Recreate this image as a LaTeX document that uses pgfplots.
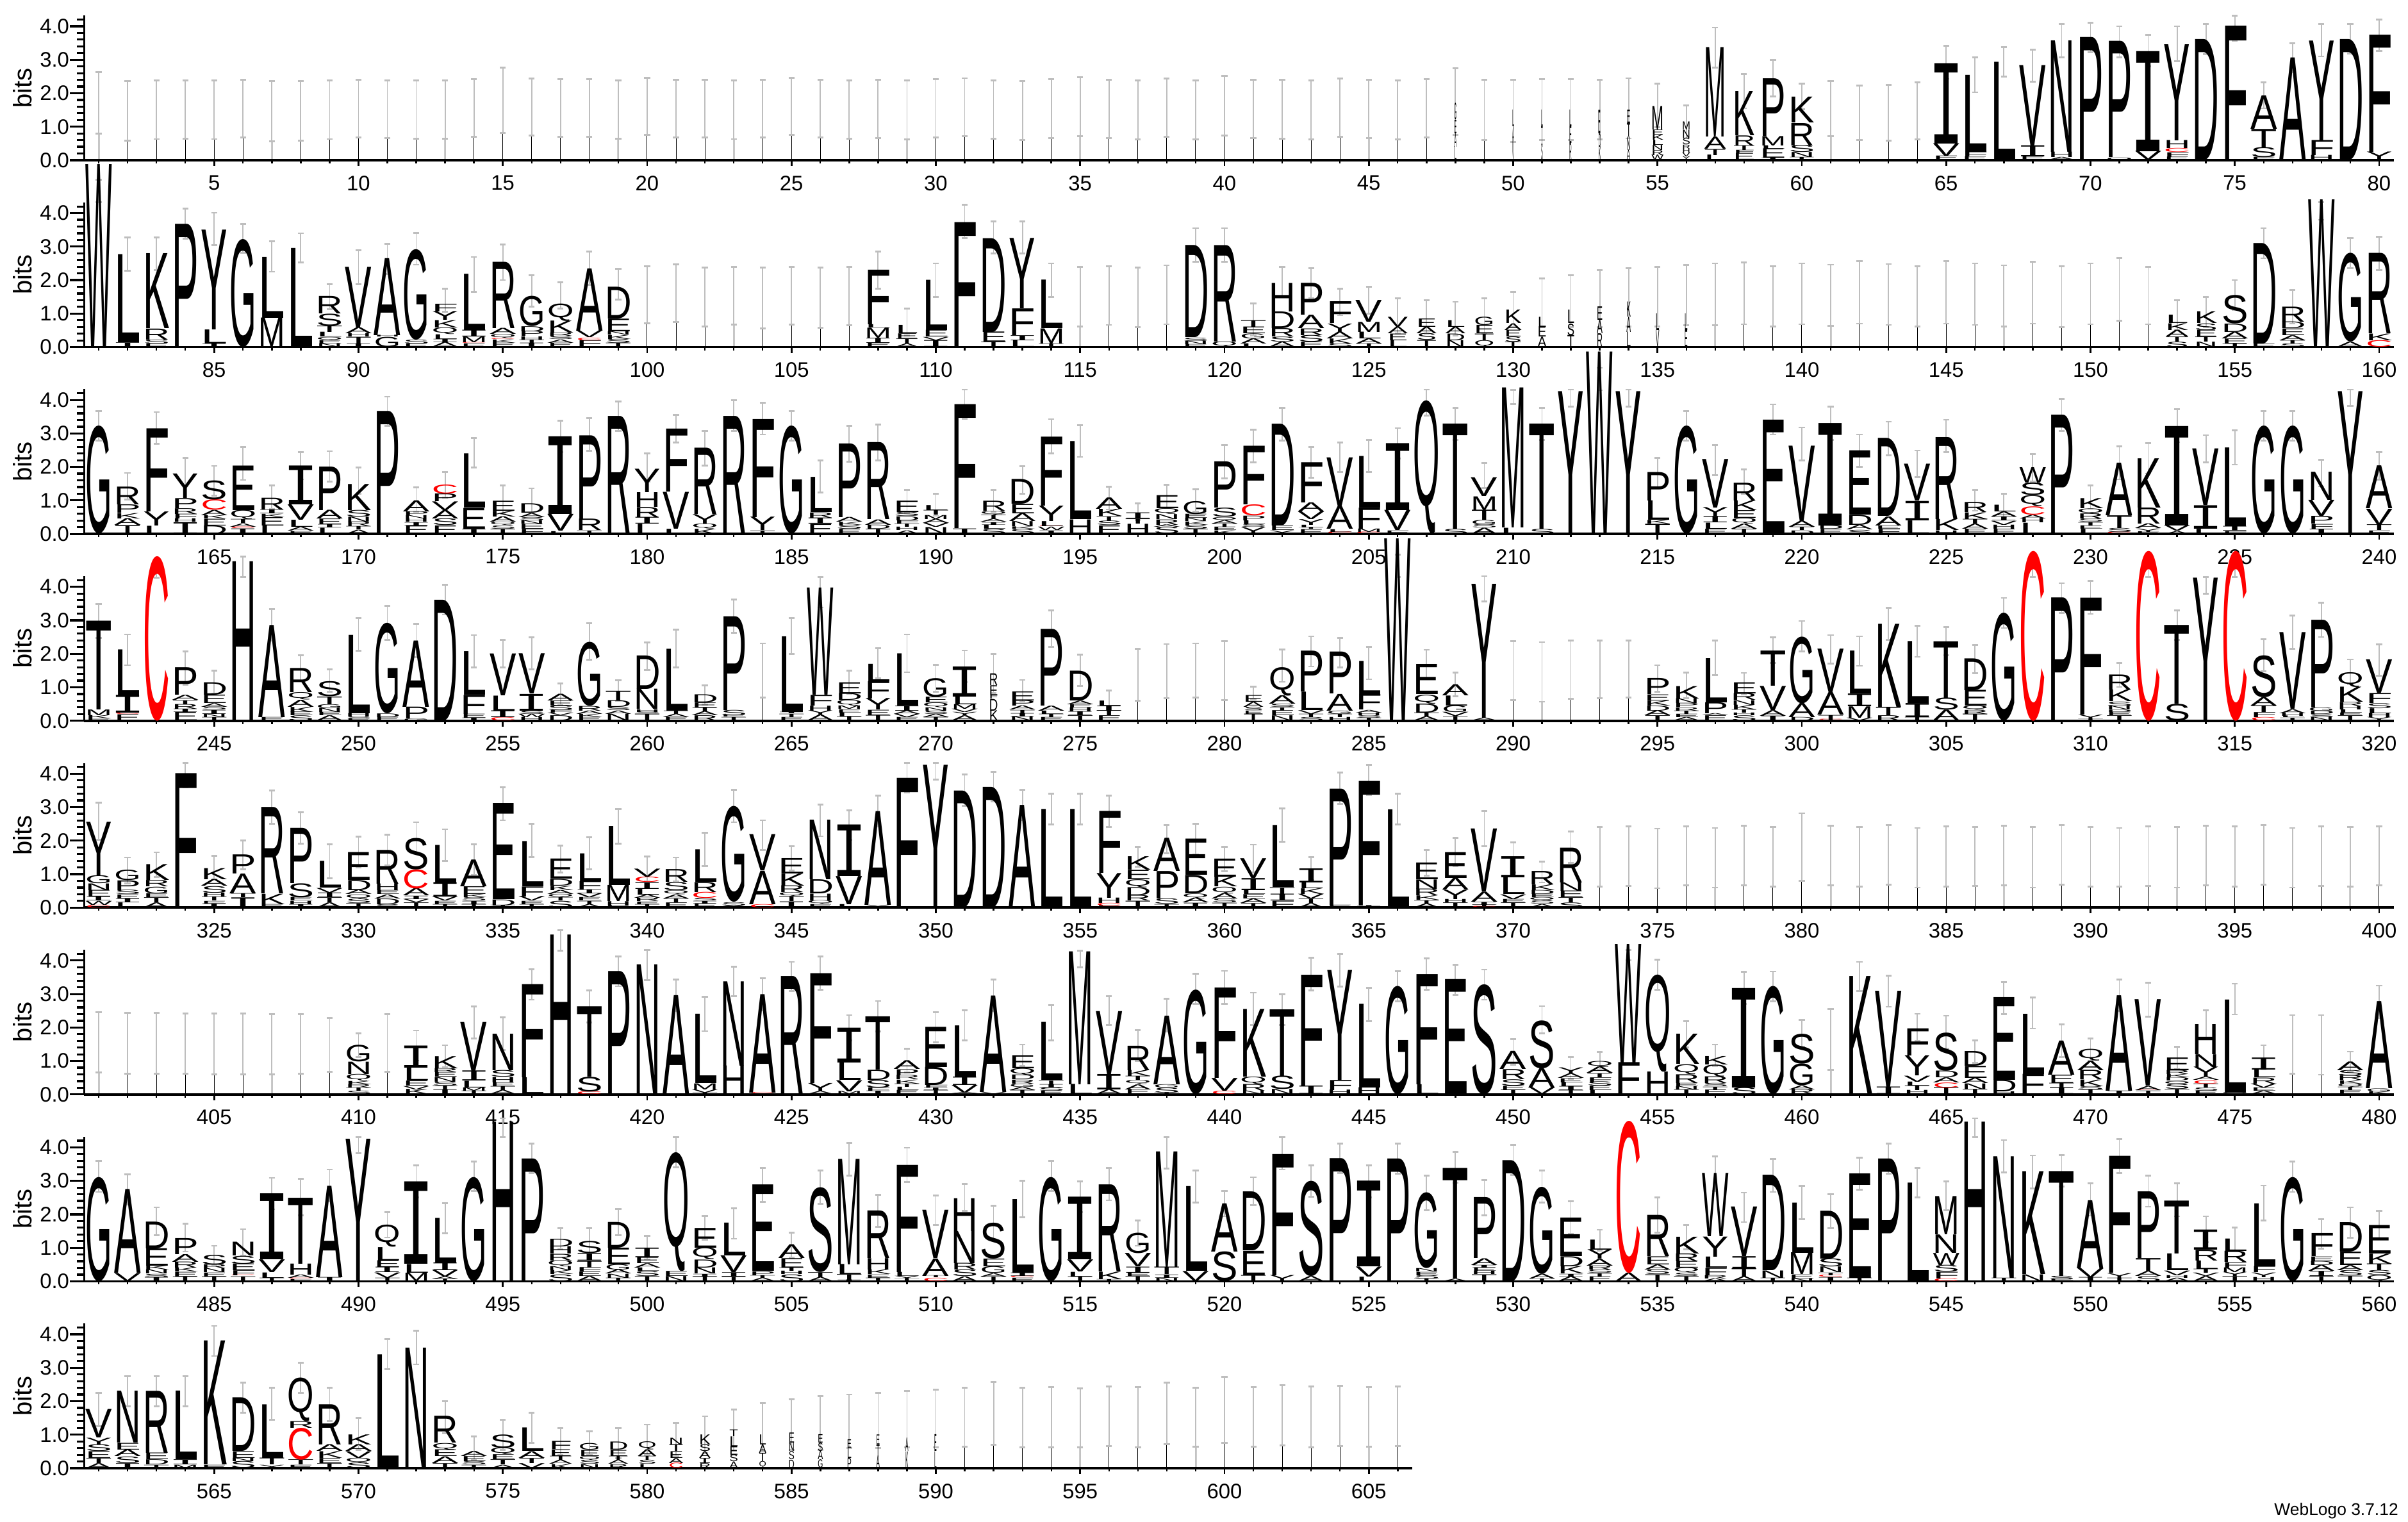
\documentclass[border=0pt]{standalone}
\usepackage{fontspec}
\setmainfont{Liberation Sans}
\newfontfamily\monoI{Liberation Mono}
\usepackage{pgfplots}
\usepackage{pgfplotstable}
\pgfplotsset{compat=1.18}
\definecolor{errg}{HTML}{BEBEBE}
\newcommand\rowstart[1]{\gdef\tL{x y c\\}\gdef\tE{x y ep em\\}\gdef\tS{x y\\#1 0\\}}
\newcommand\addE[3]{\pgfmathparse{(#2+#3)/2}\let\yy\pgfmathresult\pgfmathparse{(#2-#3)/2}\let\ee\pgfmathresult
 \xdef\tE{\unexpanded\expandafter{\tE}#1 \yy\space\ee\space\ee\noexpand\\}}
\newcommand\s[5][.92]{\gdef\cum{0}%
 \foreach \lc/\lh in {#5}{%
  \xdef\tL{\unexpanded\expandafter{\tL}#2 \cum\space\lc/\lh/#1\noexpand\\}%
  \pgfmathparse{\cum+\lh}\xdef\cum{\pgfmathresult}}%
 \addE{#2}{#3}{#4}}
\newcommand\e[3]{\addE{#1}{#2}{#3}\pgfmathparse{(#2+#3)/2}\xdef\tS{\unexpanded\expandafter{\tS}#1 \pgfmathresult\noexpand\\}}
\newcommand\saverow[3]{%
 \edef\tmpa{\noexpand\pgfplotstableread[row sep=\noexpand\\]{\unexpanded\expandafter{\tL}}\noexpand#1}\tmpa
 \edef\tmpa{\noexpand\pgfplotstableread[row sep=\noexpand\\]{\unexpanded\expandafter{\tE}}\noexpand#2}\tmpa
 \edef\tmpa{\noexpand\pgfplotstableread[row sep=\noexpand\\]{\unexpanded\expandafter{\tS}}\noexpand#3}\tmpa}
\def\letI{I}\def\letC{C}
\def\LetP#1/#2/#3\relax{\pgfmathsetlengthmacro\LH{#2*13.0625pt}\pgfmathsetlengthmacro\LW{#3*11.2625pt}%
 \edef\tmpl{#1}%
 \ifx\tmpl\letI\resizebox*{\LW}{\LH}{\monoI\kern-.07em I\kern-.07em}%
 \else\ifx\tmpl\letC\resizebox*{\LW}{\LH}{\color{red}C}%
 \else\resizebox*{\LW}{\LH}{\tmpl}\fi\fi}
% Row 1
\rowstart{1}
\e{1}{2.63}{.80}\e{2}{2.36}{.59}\e{3}{2.38}{.63}\e{4}{2.38}{.64}\e{5}{2.38}{.63}\e{6}{2.40}{.68}\e{7}{2.36}{.57}\e{8}{2.36}{.59}\e{9}{2.38}{.63}\e{10}{2.40}{.68}
\e{11}{2.38}{.66}\e{12}{2.38}{.64}\e{13}{2.38}{.64}\e{14}{2.42}{.70}\e{15}{2.77}{.82}\e{16}{2.44}{.74}\e{17}{2.42}{.70}\e{18}{2.42}{.70}\e{19}{2.38}{.64}\e{20}{2.46}{.76}
\e{21}{2.40}{.68}\e{22}{2.40}{.68}\e{23}{2.38}{.63}\e{24}{2.40}{.68}\e{25}{2.46}{.76}\e{26}{2.40}{.68}\e{27}{2.38}{.64}\e{28}{2.40}{.66}\e{29}{2.38}{.62}\e{30}{2.42}{.68}
\e{31}{2.45}{.72}\e{32}{2.38}{.64}\e{33}{2.36}{.60}\e{34}{2.42}{.66}\e{35}{2.48}{.72}\e{36}{2.40}{.66}\e{37}{2.38}{.62}\e{38}{2.44}{.70}\e{39}{2.38}{.62}\e{40}{2.52}{.74}
\e{41}{2.40}{.66}\e{42}{2.40}{.64}\e{43}{2.38}{.62}\e{44}{2.44}{.70}\e{45}{2.40}{.66}\e{46}{2.38}{.62}\e{47}{2.42}{.68}
\s[.08]{48}{2.75}{.75}{L/.4,A/.4,E/.4,G/.5}\e{49}{2.4}{.6}\s[.06]{50}{2.4}{.55}{V/.5,A/.5,L/.5}\s[.06]{51}{2.42}{.6}{S/.5,T/.5,L/.5}\s[.08]{52}{2.42}{.6}{R/.5,E/.5,L/.5}\s[.08]{53}{2.4}{.62}{K/.4,D/.4,E/.7}\s[.12]{54}{2.45}{.65}{A/.3,N/.4,T/.4,E/.4}
\s[.42]{55}{2.28}{.98}{W/.15,R/.15,N/.15,L/.15,K/.15,E/.15,M/.7}
\s[.28]{56}{1.63}{.65}{Y/.1,V/.12,H/.12,R/.12,S/.2,N/.24,M/.24}
\s[.76]{57}{3.96}{2.76}{L/.15,T/.18,A/.36,M/2.67}
\s[.76]{58}{2.57}{1.55}{E/.2,F/.1,T/.14,R/.3,K/1.32}
\s[.9]{59}{2.99}{1.9}{I/.06,E/.28,L/.1,M/.28,P/1.72}
\s[.9]{60}{2.28}{1.52}{T/.08,N/.15,S/.21,R/.67,K/.77}
\e{61}{2.37}{.72}\e{62}{2.23}{.6}\e{63}{2.25}{.59}\e{64}{2.32}{.62}
\s{65}{3.41}{2.43}{E/.12,V/.37,I/2.4}\s{66}{3.07}{2.03}{E/.1,F/.14,L/2.3}\s{67}{3.38}{2.49}{L/2.92}\s{68}{3.3}{2.35}{E/.1,I/.33,V/2.4}\s{69}{4.07}{3.07}{A/.08,H/.16,N/3.33}\s{70}{4.1}{3.22}{P/3.66}\s{71}{4}{3.07}{Q/.08,P/3.47}\s{72}{3.74}{2.8}{V/.26,I/2.99}\s{73}{4}{2.95}{E/.09,F/.14,C/.12,H/.24,Y/2.87}\s{74}{4.07}{3.16}{D/3.6}\s{75}{4.31}{3.57}{F/4}\s{76}{2.33}{1.55}{E/.08,S/.3,T/.55,A/1}\s{77}{3.5}{2.62}{A/3.05}\s{78}{4.07}{3.1}{H/.14,F/.45,Y/2.98}\s{79}{4.07}{3.18}{D/3.6}\s{80}{4.2}{3.27}{Y/.24,F/3.5}
\saverow\LA\EA\SA
% Row 2
\rowstart{81}
\s{81}{4.99}{4.32}{W/5.45}\s{82}{3.27}{2.28}{I/.13,L/2.63}\s{83}{3.27}{2.3}{E/.1,S/.12,R/.33,K/2.24}\s{84}{4.13}{3.23}{P/3.67}\s{85}{4.01}{3.04}{I/.1,L/.42,Y/2.98}\s{86}{3.68}{2.81}{G/3.22}\s{87}{3.16}{2.25}{M/.87,L/1.82}\s{88}{3.4}{2.52}{L/2.95}
\s{89}{1.87}{1.13}{N/.1,E/.1,Q/.1,L/.14,T/.19,S/.36,R/.52}\s{90}{2.89}{1.88}{I/.1,T/.2,H/.1,A/.18,V/1.81}\s{91}{3.09}{2.19}{G/.3,H/.05,A/2.3}\s{92}{3.41}{2.46}{E/.1,S/.12,G/2.7}\s{93}{1.74}{1.05}{A/.14,I/.1,L/.14,Q/.2,K/.22,Y/.26,F/.23}\s{94}{2.69}{1.65}{E/.1,C/.03,M/.17,I/.2,L/1.68}\s{95}{3.07}{2}{E/.12,K/.1,C/.04,Q/.12,A/.18,R/1.98}
\s{96}{2.15}{1.21}{I/.12,T/.1,H/.1,P/.15,D/.15,G/.9}\s{97}{1.93}{1.15}{E/.12,A/.1,S/.1,R/.1,K/.36,Q/.52}\s{98}{2.85}{1.85}{F/.2,C/.08,V/.2,A/1.86}\s{99}{2.33}{1.42}{T/.12,S/.12,K/.12,N/.1,E/.38,D/.95}
\e{100}{2.42}{.71}\e{101}{2.47}{.75}\e{102}{2.38}{.62}\e{103}{2.4}{.67}\e{104}{2.37}{.56}\e{105}{2.39}{.67}\e{106}{2.37}{.57}\e{107}{2.4}{.65}
\s{108}{2.85}{1.75}{E/.12,I/.15,M/.3,L/.1,F/1.63}\s[.8]{109}{1.15}{.35}{A/.1,T/.15,E/.15,L/.25}\s{110}{2.5}{1.5}{I/.2,V/.1,E/.2,L/1.5}\s{111}{4.25}{3.25}{F/3.72}\s{112}{3.75}{2.8}{T/.15,E/.3,D/2.8}\s{113}{3.75}{2.8}{L/.2,I/.15,F/.8,Y/2.1}\s{114}{2.5}{1.5}{T/.1,M/.45,L/1.45}
\e{115}{2.4}{.62}\e{116}{2.42}{.66}\e{117}{2.38}{.6}\e{118}{2.44}{.68}
\s{119}{3.55}{2.55}{E/.08,N/.1,S/.1,D/2.75}\s{120}{3.55}{2.55}{Q/.15,R/2.88}\s{121}{1.3}{.35}{L/.1,A/.15,G/.15,E/.2,T/.2}\s{122}{2.4}{1.5}{A/.15,S/.15,R/.25,D/.5,H/.85}\s{123}{2.35}{1.45}{E/.15,S/.2,R/.2,A/.4,P/.95}\s{124}{1.75}{.95}{S/.1,K/.15,A/.2,Y/.25,F/.65}\s{125}{1.8}{1}{T/.1,A/.15,L/.2,M/.3,V/.65}
\s[.7]{126}{1.45}{.4}{L/.2,E/.2,A/.2,V/.3}\s[.7]{127}{1.4}{.4}{T/.2,S/.2,A/.2,E/.25}\s[.7]{128}{1.35}{.35}{N/.2,D/.2,A/.2,L/.2}\s[.7]{129}{1.45}{.4}{Q/.2,T/.2,E/.25,G/.25}\s[.6]{130}{1.65}{.6}{T/.15,S/.15,E/.2,A/.2,K/.4}
\s[.3]{131}{2.05}{.6}{A/.3,E/.3,L/.3}\s[.25]{132}{2.15}{.6}{T/.35,S/.35,L/.4}\s[.2]{133}{2.3}{.6}{R/.4,A/.4,E/.4}\s[.15]{134}{2.35}{.62}{L/.45,A/.45,K/.45}\s[.12]{135}{2.4}{.62}{V/.5,L/.5}\s[.1]{136}{2.45}{.65}{E/.5,L/.5}
\e{137}{2.5}{.65}\e{138}{2.52}{.68}\e{139}{2.42}{.62}\e{140}{2.5}{.68}\e{141}{2.46}{.64}\e{142}{2.56}{.7}\e{143}{2.48}{.66}\e{144}{2.42}{.62}\e{145}{2.56}{.7}\e{146}{2.5}{.66}\e{147}{2.44}{.62}\e{148}{2.54}{.7}\e{149}{2.42}{.6}\e{150}{2.5}{.68}\e{151}{2.66}{.78}\e{152}{2.4}{.68}
\s[.8]{153}{1.4}{.5}{S/.15,T/.15,A/.2,K/.2,L/.25}\s[.8]{154}{1.5}{.6}{N/.15,T/.15,E/.2,S/.2,K/.35}\s{155}{2}{1.1}{T/.1,E/.15,A/.2,D/.25,S/.85}\s{156}{3.55}{2.65}{E/.1,D/3}\s{157}{1.7}{.7}{S/.1,T/.1,A/.15,E/.2,D/.2,R/.45}\s{158}{4.32}{3.8}{W/4.4}\s{159}{3.25}{2.35}{A/.15,G/2.65}\s{160}{3.3}{2.3}{C/.2,K/.2,R/2.4}
\saverow\LB\EB\SB
% Row 3
\rowstart{161}
\s{161}{3.67}{2.78}{G/3.22}\s{162}{1.82}{1.02}{T/.26,A/.2,K/.16,P/.25,R/.53}\s{163}{3.64}{2.69}{L/.24,Y/.42,F/2.48}\s{164}{2.27}{1.44}{I/.35,H/.1,F/.14,R/.17,P/.3,Y/.73}\s{165}{2.03}{1.14}{D/.25,E/.2,K/.1,A/.16,C/.31,S/.57}\s{166}{2.6}{1.61}{I/.16,C/.05,A/.1,T/.12,Q/.28,E/1.33}\s{167}{1.45}{.75}{L/.25,E/.25,K/.1,I/.12,R/.35}\s{168}{2.44}{1.63}{E/.08,A/.12,L/.21,V/.46,I/1.16}
\s{169}{2.47}{1.56}{L/.18,I/.1,E/.17,A/.26,P/1.3}\s{170}{1.99}{1.2}{A/.12,T/.1,R/.14,N/.15,S/.2,K/.78}\s{171}{4.1}{3.22}{P/3.67}\s{172}{1.39}{.67}{E/.25,I/.1,H/.1,N/.1,P/.12,A/.33}\s{173}{1.85}{1.09}{E/.25,S/.2,A/.25,V/.26,P/.23,C/.27}\s{174}{2.86}{1.98}{I/.15,E/.62,L/1.62}\s{175}{1.44}{.6}{T/.15,S/.1,Q/.1,A/.16,K/.17,E/.3}\s{176}{1.36}{.62}{F/.15,E/.15,N/.1,S/.1,A/.12,D/.28}
\s{177}{3.38}{2.44}{L/.08,V/.5,I/2.32}\s{178}{3.46}{2.48}{T/.1,R/.34,P/2.5}\s{179}{3.96}{3.08}{R/3.52}\s{180}{2.4}{1.56}{L/.3,I/.2,R/.3,H/.44,Y/.7}\s{181}{3.56}{2.73}{L/.15,V/1.1,F/1.88}\s{182}{3.08}{2.04}{K/.15,Q/.15,Y/.28,R/1.98}\s{183}{3.99}{3.08}{R/3.52}\s{184}{3.92}{2.97}{T/.1,Y/.4,F/2.93}\s{185}{3.67}{2.78}{G/3.22}
\s{186}{2.2}{1.23}{E/.3,I/.18,R/.16,L/1.05}\s{187}{3.22}{2.15}{E/.15,S/.12,K/.09,A/.14,P/2.2}\s{188}{3.26}{2.2}{T/.15,D/.12,A/.16,R/2.3}\s{189}{1.31}{.62}{A/.1,H/.1,T/.1,F/.1,D/.12,S/.12,E/.34}\s{190}{1.2}{.54}{N/.2,V/.12,A/.12,M/.12,T/.14,L/.15}\s{191}{4.31}{3.44}{I/.16,F/3.7}\s{192}{1.31}{.67}{S/.15,L/.12,I/.08,A/.09,T/.13,Q/.12,R/.3}
\s{193}{2.02}{1.2}{S/.15,K/.07,N/.15,A/.24,E/.28,D/.74}\s{194}{3.43}{2.41}{I/.1,W/.1,C/.03,L/.15,Y/.46,F/2.06}\s{195}{3.24}{2.3}{H/.43,L/2.33}\s{196}{1.41}{.73}{E/.25,S/.13,T/.14,K/.21,A/.34}\s{197}{.91}{.41}{H/.3,T/.15,I/.18}\s{198}{1.47}{.78}{S/.2,A/.07,R/.16,N/.15,Q/.17,E/.39}\s{199}{1.33}{.66}{T/.15,S/.12,K/.1,N/.1,E/.12,G/.39}
\s{200}{2.65}{1.66}{K/.1,E/.1,T/.1,A/.1,Q/.1,S/.27,P/1.38}\s{201}{3.11}{2.13}{Y/.2,S/.08,L/.12,P/.14,C/.33,F/1.75}\s{202}{3.77}{2.78}{Y/.1,E/.15,D/3.04}\s{203}{2.6}{1.67}{E/.14,T/.05,L/.08,Y/.17,V/.23,A/.27,F/1.2}\s{204}{2.73}{1.85}{C/.06,L/.08,A/.68,V/1.46}\s{205}{2.8}{1.85}{C/.05,M/.1,F/.63,L/1.54}\s{206}{3.16}{2.25}{E/.1,V/.6,I/2}\s{207}{4.31}{3.54}{Q/3.97}\s{208}{3.77}{2.81}{S/.15,T/3.14}\s{209}{2.12}{1.37}{A/.18,S/.1,G/.13,T/.3,M/.41,V/.56}
\s{210}{4.3}{3.88}{L/.18,M/4.18}\s{211}{3.77}{2.81}{S/.15,T/3.14}\s{212}{4.31}{3.8}{Y/4.26}\s{213}{4.96}{4.29}{W/5.44}\s{214}{4.31}{3.8}{Y/4.26}\s{215}{2.27}{1.39}{T/.3,K/.11,L/.58,P/.85}\s{216}{3.67}{2.78}{G/3.22}\s{217}{2.66}{1.76}{E/.15,L/.18,I/.19,Y/.26,V/1.45}\s{218}{1.92}{1.2}{T/.15,A/.15,Q/.17,E/.23,K/.29,R/.53}\s{219}{3.87}{2.97}{E/3.41}\s{220}{3.18}{2.19}{D/.1,T/.1,A/.18,V/2.25}
\s{221}{3.8}{2.81}{E/.15,D/.1,I/3.06}\s{222}{2.97}{2}{S/.12,A/.14,D/.3,E/1.92}\s{223}{3.35}{2.35}{F/.15,E/.1,A/.27,D/2.33}\s{224}{2.49}{1.69}{L/.4,I/.58,V/1.1}\s{225}{3.41}{2.44}{H/.1,K/.33,R/2.45}\s{226}{1.31}{.69}{E/.15,A/.15,T/.14,K/.2,R/.3}\s{227}{1.2}{.5}{E/.15,H/.12,V/.12,I/.12,A/.15,L/.2}\s{228}{2.39}{1.56}{L/.33,H/.13,A/.11,C/.25,Q/.33,S/.37,W/.46}\s{229}{4.03}{3.08}{P/3.56}\s{230}{1.45}{.75}{L/.15,E/.1,T/.1,S/.1,R/.15,Q/.16,K/.3}
\s{231}{2.62}{1.63}{C/.05,S/.12,T/.38,A/1.57}\s{232}{2.71}{1.8}{E/.06,Y/.1,A/.14,R/.48,K/1.47}\s{233}{3.72}{2.74}{A/.08,V/.17,I/2.97}\s{234}{2.95}{2.14}{L/.15,I/.7,V/1.69}\s{235}{3.1}{2.07}{F/.08,I/.14,L/2.35}\s{236}{3.67}{2.78}{G/3.22}\s{237}{3.67}{2.78}{G/3.22}\s{238}{2.22}{1.42}{I/.15,F/.14,P/.23,V/.48,N/.84}\s{239}{4.31}{3.82}{Y/4.26}\s{240}{2.44}{1.62}{E/.1,T/.17,V/.48,A/1.28}
\saverow\LC\EC\SC
% Row 4
\rowstart{241}
\s{241}{3.48}{2.47}{E/.06,K/.1,M/.17,T/2.65}\s{242}{2.58}{1.66}{E/.18,C/.05,I/.53,L/1.37}\s{243}{4.45}{4.27}{C/4.91}\s{244}{2.07}{1.08}{E/.25,I/.1,R/.14,T/.12,A/.15,P/.82}\s{245}{1.5}{.81}{T/.1,N/.1,I/.12,S/.09,A/.11,E/.25,D/.37}\s{246}{4.9}{4.29}{H/4.75}\s{247}{3.33}{2.39}{E/.1,A/2.75}\s{248}{1.96}{1.18}{S/.15,E/.11,K/.15,A/.21,Q/.22,R/.72}\s{249}{1.54}{.87}{A/.15,E/.1,N/.12,G/.12,T/.23,S/.45}\s{250}{3.06}{2.09}{E/.06,S/.06,H/.1,L/2.34}
\s{251}{3.43}{2.42}{E/.1,D/.11,G/2.7}\s{252}{2.9}{1.9}{G/.06,P/.35,A/1.98}\s{253}{4.06}{3.17}{D/3.6}\s{254}{2.56}{1.59}{I/.08,E/.12,F/.57,L/1.3}\s{255}{2.41}{1.59}{C/.1,I/.2,L/.45,V/1.25}\s{256}{2.49}{1.54}{H/.1,W/.1,S/.1,I/.5,V/1.2}\s{257}{1.11}{.46}{D/.15,V/.08,F/.08,S/.14,E/.15,A/.2}\s{258}{2.92}{1.82}{E/.1,K/.1,A/.1,R/.14,G/1.91}\s{259}{1.21}{.59}{N/.2,A/.1,S/.1,D/.2,T/.29}\s{260}{2.34}{1.51}{T/.2,S/.06,H/.08,N/.6,D/1}
\s{261}{2.72}{1.6}{E/.1,A/.1,T/.1,L/1.85}\s{262}{1.05}{.49}{R/.15,A/.12,T/.12,E/.15,D/.24}\s{263}{3.62}{2.62}{T/.1,E/.05,S/.16,P/2.8}\e{264}{2.31}{.7}\s{265}{3.06}{2}{E/.1,T/.1,I/.06,L/2.26}\s{266}{4.29}{3.38}{A/.17,Y/.13,H/.15,F/.32,W/3.2}\s{267}{1.5}{.81}{T/.12,L/.12,E/.1,M/.1,Q/.17,D/.2,E/.33}\s{268}{2.16}{1.26}{T/.16,E/.16,Y/.34,F/.52,L/.52}\s{269}{2.58}{1.45}{E/.1,V/.1,A/.1,I/.15,L/1.56}\s{270}{1.67}{.87}{T/.1,A/.1,S/.1,N/.1,Q/.14,E/.17,G/.56}
\s{271}{2.1}{1.15}{A/.15,Y/.1,V/.1,M/.14,L/.23,I/.9}\s[.3]{272}{1.99}{.83}{K/.3,D/.35,F/.1,E/.3,R/.35}\s{273}{1.22}{.57}{N/.12,I/.1,T/.1,A/.12,P/.16,E/.27}\s{274}{3.3}{2.21}{E/.1,T/.1,L/.1,A/.15,P/2.29}\s{275}{1.97}{1.03}{T/.15,I/.12,H/.12,E/.1,A/.11,D/.89}\s{276}{.91}{.3}{E/.15,T/.15,I/.15,L/.15}\e{277}{2.15}{.6}\e{278}{2.29}{.68}\e{279}{2.31}{.7}\e{280}{2.37}{.61}
\s[.7]{281}{1.02}{.64}{T/.2,E/.1,S/.1,A/.15,E/.2}\s{282}{2.13}{1.16}{N/.15,E/.15,T/.1,S/.1,A/.25,Q/.85}\s{283}{2.52}{1.62}{S/.1,T/.1,V/.11,L/.55,P/1.22}\s{284}{2.47}{1.6}{H/.1,T/.1,G/.1,A/.5,P/1.25}\s{285}{2.2}{1.24}{T/.08,S/.08,H/.08,A/.08,F/.46,L/.99}\s{286}{4.96}{4.29}{W/5.43}\s{287}{2.12}{1.26}{A/.12,T/.12,D/.27,Q/.27,E/.9}\s{288}{1.44}{.73}{T/.13,V/.12,G/.2,L/.3,A/.33}\s{289}{4.32}{3.57}{A/.08,Y/4}\e{290}{2.37}{.61}
\e{291}{2.35}{.57}\e{292}{2.39}{.66}\e{293}{2.39}{.68}\e{294}{2.39}{.7}\s{295}{1.66}{.87}{T/.15,A/.15,D/.15,K/.15,E/.18,P/.48}\s{296}{1.44}{.68}{A/.1,E/.1,T/.1,R/.1,P/.12,N/.14,K/.37}\s{297}{2.39}{1.37}{E/.15,A/.06,P/.33,L/1.32}\s{298}{1.43}{.78}{S/.15,H/.08,T/.1,K/.14,N/.14,R/.2,E/.33}\s{299}{2.49}{1.72}{I/.14,A/.17,V/.72,T/1.05}\s{300}{2.98}{2.07}{D/.1,A/.42,G/1.99}
\s{301}{2.56}{1.7}{C/.03,T/.14,A/.67,V/1.3}\s{302}{2.52}{1.64}{V/.08,M/.34,I/.38,L/1.28}\s{303}{3.38}{2.42}{R/.15,T/.25,K/2.48}\s{304}{2.84}{1.91}{T/.1,I/.42,L/1.85}\s{305}{2.8}{1.95}{A/.32,S/.36,T/1.69}\s{306}{2.26}{1.42}{T/.2,R/.12,Q/.12,E/.47,D/.95}\s{307}{3.67}{2.77}{G/3.22}\s{308}{4.62}{4.29}{C/5.07}\s{309}{4.11}{3.22}{P/3.67}\s{310}{4.17}{3.19}{T/.05,Y/.13,F/3.49}
\s{311}{1.72}{1.01}{T/.15,E/.1,D/.07,N/.11,S/.14,K/.35,R/.45}\s{312}{4.62}{4.29}{C/5.07}\s{313}{3.3}{2.42}{S/.5,T/2.35}\s{314}{4.29}{3.8}{Y/4.26}\s{315}{4.62}{4.29}{C/5.07}\s{316}{2.43}{1.47}{C/.1,F/.15,T/.2,A/.25,S/1.25}\s{317}{3.15}{2.14}{T/.08,L/.05,H/.09,A/.12,V/2.29}\s{318}{3.53}{2.5}{N/.1,S/.09,D/.1,G/.1,P/2.62}\s{319}{1.83}{1.1}{T/.15,E/.08,L/.1,H/.1,R/.13,K/.45,Q/.44}\s{320}{2.28}{1.35}{Y/.1,H/.12,L/.15,S/.15,F/.3,V/1}
\saverow\LD\ED\SD
% Row 5
\rowstart{321}
\s{321}{3.13}{2.02}{C/.08,W/.12,I/.12,E/.2,N/.2,G/.24,Y/1.6}\s{322}{1.5}{.73}{L/.15,I/.12,E/.12,S/.13,P/.29,G/.31}\s{323}{1.65}{.92}{A/.15,T/.15,E/.12,G/.2,R/.19,K/.47}\s{324}{4.32}{3.59}{F/4.01}\s{325}{1.54}{.84}{I/.12,E/.08,T/.12,H/.12,S/.2,A/.2,K/.33}\s{326}{2}{1.14}{I/.3,T/.12,A/.59,P/.57}\s{327}{3.5}{2.5}{E/.1,K/.31,R/2.58}\s{328}{2.85}{1.91}{I/.1,H/.1,E/.1,S/.42,P/1.65}\s{329}{1.89}{.88}{A/.15,T/.15,I/.14,V/.14,L/.8}\s{330}{2.12}{1.2}{T/.13,S/.13,Q/.13,A/.13,D/.3,E/.83}
\s{331}{2.17}{1.27}{S/.1,D/.17,A/.12,E/.12,H/.2,R/1.01}\s{332}{2.55}{1.62}{T/.15,V/.1,I/.1,A/.22,C/.57,S/.94}\s{333}{2.34}{1.4}{T/.1,E/.1,V/.12,I/.43,L/1.12}\s{334}{1.89}{.98}{T/.1,I/.1,S/.1,K/.1,E/.23,A/.8}\s{335}{3.6}{2.61}{T/.06,D/.18,E/2.87}\s{336}{2.51}{1.51}{T/.1,E/.1,V/.13,F/.3,L/1.35}\s{337}{1.86}{1.05}{S/.2,T/.1,Q/.1,A/.12,K/.13,D/.2,E/.6}\s{338}{2.1}{1.14}{A/.1,T/.1,E/.1,V/.12,I/.12,F/.25,L/.83}\s{339}{2.94}{1.91}{E/.05,H/.13,M/.48,L/1.76}\s{340}{1.52}{.79}{T/.1,E/.08,R/.1,A/.1,L/.17,I/.2,C/.16,V/.24}
\s{341}{1.5}{.79}{E/.15,T/.12,A/.12,Q/.12,S/.25,R/.38}\s{342}{2.24}{1.24}{E/.12,I/.08,S/.08,C/.18,R/.3,L/.97}\s{343}{3.52}{2.55}{A/.06,S/.1,G/2.86}\s{344}{2.61}{1.72}{C/.1,A/1,V/1.08}\s{345}{1.83}{1.11}{I/.18,T/.15,Q/.12,R/.2,K/.36,E/.46}\s{346}{3.07}{2.13}{E/.1,Q/.11,H/.2,D/.42,N/1.78}\s{347}{2.9}{2.03}{L/.1,V/.84,I/1.54}\s{348}{3.34}{2.42}{Y/.08,A/2.8}\s{349}{4.32}{3.43}{F/3.87}\s{350}{4.32}{3.82}{Y/4.26}
\s{351}{3.98}{3.04}{D/3.49}\s{352}{4.06}{3.17}{D/3.6}\s{353}{3.52}{2.61}{A/3.06}\s{354}{3.41}{2.48}{L/2.94}\s{355}{3.41}{2.48}{L/2.94}\s{356}{3.34}{2.41}{E/.05,C/.08,H/.16,Y/.74,F/1.85}\s{357}{1.82}{1.22}{T/.2,R/.16,D/.24,Q/.24,E/.28,K/.4}\s{358}{2.47}{1.62}{T/.1,S/.16,P/.82,A/.99}\s{359}{2.51}{1.59}{I/.14,A/.14,Q/.14,D/.55,E/1.08}\s{360}{1.82}{1.08}{T/.14,S/.12,A/.16,Q/.2,K/.3,E/.54}
\s{361}{1.88}{1.05}{T/.13,A/.13,E/.13,L/.12,I/.36,V/.59}\s{362}{2.96}{1.97}{F/.2,I/.2,T/.2,L/1.85}\s{363}{1.51}{.82}{A/.13,T/.13,V/.14,K/.17,L/.18,I/.42}\s{364}{4.03}{3.09}{E/.08,P/3.47}\s{365}{4.27}{3.36}{I/.05,F/3.72}\s{366}{3.41}{2.48}{L/2.93}\s{367}{1.72}{.96}{A/.12,T/.1,K/.13,R/.2,N/.28,E/.5}\s{368}{2.08}{1.24}{T/.15,H/.1,Y/.28,A/.35,E/.77}\s{369}{2.88}{1.84}{C/.03,T/.05,I/.09,A/.3,V/1.88}\s{370}{1.95}{1.05}{T/.15,E/.1,V/.14,L/.5,I/.63}
\s{371}{1.38}{.75}{A/.1,S/.1,Q/.1,E/.1,D/.12,K/.17,R/.4}\s{372}{2.27}{1.33}{S/.15,T/.15,E/.2,N/.25,R/1.04}
\e{373}{2.4}{.62}\e{374}{2.42}{.64}\e{375}{2.36}{.58}\e{376}{2.42}{.66}\e{377}{2.38}{.6}\e{378}{2.44}{.66}\e{379}{2.4}{.62}\e{380}{2.82}{.8}\e{381}{2.44}{.66}\e{382}{2.4}{.62}\e{383}{2.46}{.68}\e{384}{2.38}{.6}\e{385}{2.42}{.62}\e{386}{2.4}{.64}\e{387}{2.44}{.66}\e{388}{2.4}{.6}\e{389}{2.46}{.68}\e{390}{2.4}{.62}
\e{391}{2.38}{.62}\e{392}{2.42}{.64}\e{393}{2.4}{.6}\e{394}{2.44}{.66}\e{395}{2.42}{.62}\e{396}{2.46}{.68}\e{397}{2.38}{.6}\e{398}{2.42}{.64}\e{399}{2.4}{.62}\e{400}{2.42}{.66}
\saverow\LE\EE\SE
% Row 6
\rowstart{401}
\e{401}{2.46}{.66}\e{402}{2.44}{.62}\e{403}{2.44}{.62}\e{404}{2.42}{.62}\e{405}{2.42}{.6}\e{406}{2.42}{.6}\e{407}{2.4}{.6}\e{408}{2.4}{.62}\e{409}{2.29}{.68}
\s{410}{1.83}{1.11}{S/.1,T/.1,R/.1,K/.1,Q/.2,N/.37,G/.5}\e{411}{2.4}{.68}\s{412}{1.91}{1.01}{K/.15,V/.1,E/.15,L/.4,I/.66}\s{413}{1.47}{.82}{I/.14,T/.12,S/.12,N/.14,E/.14,R/.12,K/.36}\s{414}{2.63}{1.67}{T/.1,M/.1,L/.2,I/.3,V/1.46}\s{415}{2.3}{1.33}{A/.12,T/.12,E/.12,H/.16,S/.2,N/1.09}\s{416}{3.74}{2.83}{L/.5,F/2.78}\s{417}{4.9}{4.3}{H/4.76}\s{418}{3.1}{2.15}{C/.08,S/.44,T/2.1}\s{419}{4.12}{3.23}{P/3.67}\s{420}{4.31}{3.42}{N/3.87}
\s{421}{3.44}{2.5}{A/2.95}\s{422}{2.92}{1.89}{T/.05,V/.1,M/.18,L/2.07}\s{423}{3.82}{2.94}{H/.85,N/2.52}\s{424}{3.47}{2.51}{C/.04,A/2.94}\s{425}{3.96}{3.09}{R/3.52}\s{426}{4.12}{3.13}{A/.09,Y/.25,F/3.28}\s{427}{2.37}{1.62}{M/.09,V/.33,L/.52,I/1.04}\s{428}{2.79}{1.88}{I/.1,F/.1,S/.23,D/.3,T/1.59}\s{429}{1.37}{.66}{E/.12,L/.1,T/.1,K/.12,R/.13,P/.18,A/.26}\s{430}{2.46}{1.56}{T/.12,I/.08,F/.08,D/.54,E/1.2}
\s{431}{2.51}{1.61}{A/.04,V/.23,I/.25,L/1.53}\s{432}{3.43}{2.5}{V/.06,A/2.88}\s{433}{1.49}{.85}{T/.12,A/.1,G/.1,R/.12,D/.14,Q/.2,E/.39}\s{434}{2.67}{1.62}{E/.1,S/.1,I/.1,T/.12,L/1.73}\s{435}{4.3}{3.79}{L/.3,M/3.97}\s{436}{2.93}{2.07}{A/.14,I/.46,V/1.88}\s{437}{1.92}{1}{E/.15,A/.15,Q/.12,T/.12,K/.18,R/.73}\s{438}{2.86}{1.88}{T/.05,S/.15,G/.1,A/2.05}\s{439}{3.6}{2.7}{G/3.12}\s{440}{3.69}{2.7}{C/.1,V/.38,F/2.7}
\s{441}{3.04}{2.08}{N/.1,R/.2,Q/.22,K/2.02}\s{442}{3}{2.08}{N/.15,S/.4,T/1.99}\s{443}{4.08}{3.1}{I/.25,F/3.31}\s{444}{4.2}{3.22}{H/.13,F/.3,Y/3.28}\s{445}{3.18}{2.19}{H/.2,L/2.5}\s{446}{3.68}{2.78}{G/3.23}\s{447}{4.06}{3.12}{L/.29,F/3.29}\s{448}{3.87}{2.98}{E/3.43}\s{449}{3.73}{2.83}{S/3.28}\s{450}{1.66}{.89}{T/.13,E/.13,S/.19,R/.3,A/.54}
\s{451}{2.64}{1.83}{V/.2,A/.58,S/1.43}\s{452}{1.12}{.47}{T/.12,I/.12,L/.12,E/.12,A/.14,Y/.18}\s{453}{1.27}{.73}{L/.12,E/.13,S/.13,F/.13,T/.12,A/.19,Q/.18}\s{454}{4.31}{4.01}{F/.95,W/3.54}\s{455}{4.03}{3.12}{H/.67,Q/2.9}\s{456}{2.19}{1.4}{T/.14,N/.1,E/.1,R/.26,Q/.3,K/.9}\s{457}{1.49}{.84}{E/.13,T/.1,S/.1,R/.2,Q/.36,K/.25}\s{458}{3.66}{2.7}{S/.2,I/2.97}\s{459}{3.67}{2.78}{G/3.23}\s{460}{2.23}{1.43}{R/.15,A/.12,G/.65,S/.89}
\e{461}{2.55}{.73}\s{462}{3.96}{3.09}{K/3.52}\s{463}{3.55}{2.62}{I/.22,V/2.87}\s{464}{2.41}{1.59}{H/.12,T/.14,L/.12,V/.18,Y/.6,F/.81}\s{465}{2.35}{1.37}{T/.2,C/.15,A/.15,D/.2,S/1.14}\s{466}{1.61}{.95}{T/.15,N/.18,A/.16,E/.36,D/.44}\s{467}{3.36}{2.4}{H/.08,D/.35,E/2.47}\s{468}{2.9}{1.97}{F/.6,L/1.8}\s{469}{2.1}{1.11}{I/.2,T/.14,E/.25,A/1.02}\s{470}{1.67}{1.01}{T/.14,S/.1,K/.2,R/.28,A/.28,Q/.35}
\s{471}{3.43}{2.5}{I/.1,A/2.85}\s{472}{3.34}{2.32}{T/.1,C/.03,A/.12,V/2.58}\s{473}{1.43}{.76}{T/.15,S/.15,Q/.1,D/.1,K/.1,R/.12,E/.38}\s{474}{2.51}{1.7}{E/.1,S/.1,T/.12,C/.1,A/.1,Y/.3,N/.38,H/.9}\s{475}{3.31}{2.39}{Q/.05,L/2.78}\s{476}{1.47}{.76}{A/.1,E/.1,V/.12,R/.18,L/.24,I/.36}\e{477}{2.37}{.62}\e{478}{2.37}{.59}\s{479}{1.28}{.67}{E/.12,T/.1,Q/.1,K/.1,R/.14,S/.16,A/.26}\s{480}{3.25}{2.29}{K/.08,G/.09,A/2.6}
\saverow\LF\EF\SF
% Row 7
\rowstart{481}
\s{481}{3.6}{2.67}{G/3.11}\s{482}{3.2}{2.29}{V/.24,A/2.5}\s{483}{2.21}{1.37}{I/.12,S/.1,N/.12,K/.12,E/.52,D/.8}\s{484}{1.72}{.89}{T/.14,E/.14,K/.12,R/.18,A/.23,P/.48}\s{485}{1.06}{.49}{T/.14,E/.12,N/.12,R/.12,S/.29}\s{486}{1.56}{.76}{T/.14,C/.03,F/.15,E/.2,S/.24,N/.41}\s{487}{3.09}{2.15}{T/.1,L/.16,V/.38,I/1.97}\s{488}{3.06}{1.97}{E/.06,C/.03,A/.1,H/.33,T/1.97}\s{489}{3.34}{2.39}{I/.12,A/2.73}\s{490}{4.3}{3.82}{Y/4.25}
\s{491}{2.07}{1.31}{T/.1,V/.16,I/.16,E/.2,L/.4,Q/.66}\s{492}{3.47}{2.5}{M/.25,L/.26,I/2.46}\s{493}{2.34}{1.43}{T/.05,A/.08,V/.2,I/.23,L/1.33}\s{494}{3.57}{2.69}{G/3.11}\s{495}{4.87}{4.3}{H/4.76}\s{496}{4.11}{3.23}{P/3.66}\s{497}{1.59}{.95}{S/.2,K/.12,N/.12,Q/.18,R/.2,H/.22,D/.23}\s{498}{1.58}{.85}{A/.15,E/.13,F/.13,T/.2,I/.22,S/.36}\s{499}{2.16}{1.37}{T/.1,N/.12,A/.12,G/.16,E/.5,D/.77}\s{500}{1.35}{.66}{T/.15,S/.15,L/.1,A/.13,E/.18,I/.29}
\s{501}{4.31}{3.41}{N/.15,E/.15,Q/3.55}\s{502}{1.95}{1.24}{T/.14,I/.08,N/.18,D/.24,Q/.36,E/.59}\s{503}{2.18}{1.27}{T/.13,I/.13,V/.5,L/.98}\s{504}{3.39}{2.37}{A/.1,T/.08,P/.12,E/2.58}\s{505}{1.46}{.7}{S/.2,H/.1,T/.1,E/.28,A/.41}\s{506}{3.31}{2.32}{A/.12,T/.15,S/2.53}\s{507}{4.14}{3.15}{I/.03,T/.17,L/.3,M/3.15}\s{508}{2.58}{1.62}{T/.1,E/.1,K/.14,H/.34,R/1.42}\s{509}{3.99}{2.97}{T/.05,Y/.1,L/.12,F/3.2}\s{510}{2.56}{1.68}{C/.1,T/.06,A/.52,V/1.44}
\s{511}{2.91}{2.1}{A/.14,S/.2,R/.2,N/.96,H/.98}\s{512}{2.25}{1.24}{T/.14,A/.1,G/.2,E/.23,S/1.07}\s{513}{3}{1.91}{E/.1,C/.05,I/.1,L/2.2}\s{514}{3.6}{2.69}{G/3.11}\s{515}{2.99}{2.07}{T/.14,L/.14,V/.36,I/1.87}\s{516}{3.39}{2.42}{T/.06,K/.22,R/2.6}\s{517}{1.81}{1.06}{T/.15,E/.1,I/.18,V/.4,G/.61}\s{518}{4.31}{3.36}{N/.1,I/.1,T/.22,M/3.45}\s{519}{3.31}{2.35}{V/.3,L/2.53}\s{520}{2.7}{1.94}{S/.88,A/1.44}
\s{521}{3.11}{2.28}{T/.18,E/.73,D/1.76}\s{522}{4.3}{3.34}{Y/.18,F/3.62}\s{523}{3.46}{2.53}{A/.15,S/2.84}\s{524}{4.11}{3.23}{P/3.67}\s{525}{3.47}{2.51}{L/.13,V/.3,I/2.56}\s{526}{4.11}{3.22}{P/3.66}\s{527}{3.16}{2.13}{T/.08,S/.1,E/.1,N/.1,G/2.26}\s{528}{3.87}{2.94}{A/.07,T/3.3}\s{529}{3.02}{1.97}{T/.2,H/.1,E/.1,I/.08,A/.2,P/1.82}\s{530}{4.08}{3.18}{D/3.61}
\s{531}{3.31}{2.35}{T/.08,A/.14,G/2.6}\s{532}{2.39}{1.41}{A/.14,I/.08,K/.22,D/.3,E/1.15}\s{533}{1.54}{.92}{E/.14,T/.1,S/.1,R/.12,A/.2,Y/.28,L/.3}\s{534}{4.6}{4.3}{A/.25,C/4.54}\s{535}{2.51}{1.46}{T/.2,S/.15,A/.15,E/.24,R/1.23}\s{536}{1.68}{.95}{T/.15,S/.1,Q/.15,E/.2,R/.23,K/.5}\s{537}{3.73}{2.7}{A/.08,R/.1,F/.22,L/.33,Y/.6,W/1.89}\s{538}{2.65}{1.77}{A/.14,T/.25,I/.36,V/1.48}\s{539}{3.66}{2.67}{T/.1,N/.22,D/2.85}\s{540}{2.85}{1.86}{N/.08,E/.12,M/.65,L/1.5}
\s{541}{2.6}{1.59}{I/.12,C/.06,T/.08,N/.17,S/.24,D/1.43}\s{542}{3.69}{2.74}{T/.1,E/3.12}\s{543}{4.12}{3.22}{P/3.66}\s{544}{3.39}{2.5}{L/2.94}\s{545}{2.99}{2.12}{C/.08,F/.2,S/.2,W/.36,N/.55,M/1.14}\s{546}{4.87}{4.3}{H/4.76}\s{547}{4.22}{3.25}{T/.1,N/3.63}\s{548}{3.76}{2.77}{N/.2,K/3.07}\s{549}{3.77}{2.83}{E/.05,S/.1,T/3.13}\s{550}{2.93}{1.96}{I/.12,V/.27,A/2.03}
\s{551}{4.25}{3.23}{T/.1,Y/.14,F/3.49}\s{552}{3.15}{2.23}{S/.15,A/.15,T/.38,P/1.99}\s{553}{2.93}{1.94}{A/.1,H/.08,V/.14,L/.5,T/1.58}\s{554}{1.94}{1.17}{A/.15,V/.1,T/.12,L/.25,R/.32,I/.6}\s{555}{1.6}{.92}{T/.15,Y/.12,M/.14,F/.16,R/.33,L/.37}\s{556}{2.86}{1.81}{H/.12,Y/.14,F/.18,L/1.88}\s{557}{3.58}{2.67}{G/3.11}\s{558}{1.86}{.98}{T/.15,I/.15,A/.18,D/.12,E/.14,F/.69}\s{559}{2.21}{1.3}{T/.16,S/.16,A/.15,E/.4,D/.88}\s{560}{2.1}{1.27}{Q/.18,S/.14,T/.2,K/.3,E/.85}
\saverow\LG\EG\SG
% Row 8
\rowstart{561}
\s{561}{2.25}{1.25}{A/.15,T/.15,E/.2,S/.2,Y/.2,V/.85}\s{562}{2.75}{1.85}{I/.15,S/.2,A/.2,E/.2,N/1.55}\s{563}{2.75}{1.85}{T/.1,D/.15,E/.2,R/1.85}\s{564}{2.75}{1.85}{M/.1,I/.15,L/2.05}\s{565}{4.25}{3.35}{E/.1,K/3.7}\s{566}{2.55}{1.65}{S/.2,N/.1,E/.2,D/1.6}\s{567}{2.4}{1.45}{Y/.1,T/.2,L/1.6}\s{568}{3.15}{2.25}{E/.1,T/.15,C/.95,R/.2,Q/1.3}\s{569}{2.4}{1.4}{T/.15,E/.15,K/.2,A/.2,R/1.2}
\s{570}{1.5}{.55}{S/.15,Q/.15,V/.2,A/.2,K/.3}\s{571}{3.85}{2.95}{L/3.4}\s{572}{4.1}{3.1}{N/3.6}\s{573}{2}{1.05}{T/.15,A/.2,E/.2,Q/.2,R/.8}\s{574}{.95}{.25}{T/.1,S/.1,E/.15,A/.15}\s{575}{1.45}{.55}{A/.1,T/.15,E/.15,Q/.2,S/.4}\s{576}{1.65}{.75}{V/.15,T/.15,A/.2,L/.7}
\s[.8]{577}{1.2}{.4}{K/.12,A/.12,T/.12,E/.2,F/.24}\s[.75]{578}{1.1}{.4}{N/.12,S/.12,Q/.12,E/.18,G/.2}\s[.7]{579}{1.2}{.3}{R/.12,A/.12,T/.12,E/.18,D/.24}\s[.65]{580}{1.3}{.4}{L/.12,S/.12,T/.12,A/.2,Q/.24}\s[.5]{581}{1.35}{.35}{C/.15,A/.15,E/.2,T/.2,N/.2}\s[.4]{582}{1.55}{.45}{R/.15,I/.15,A/.2,S/.2,K/.3}
\s[.3]{583}{1.75}{.5}{A/.2,S/.2,E/.25,L/.3,T/.2}\s[.25]{584}{1.95}{.5}{Q/.2,T/.25,A/.25,L/.3}\s[.2]{585}{2.05}{.55}{D/.25,S/.25,N/.25,E/.3}\s[.18]{586}{2.15}{.55}{G/.25,A/.25,S/.25,E/.25}\s[.15]{587}{2.2}{.6}{P/.3,L/.3,E/.25}\s[.12]{588}{2.25}{.6}{A/.4,T/.3,E/.3}\s[.1]{589}{2.3}{.62}{K/.5,A/.4}\s[.08]{590}{2.35}{.62}{L/.5,E/.5}
\e{591}{2.4}{.64}\e{592}{2.58}{.7}\e{593}{2.4}{.62}\e{594}{2.42}{.62}\e{595}{2.38}{.62}\e{596}{2.44}{.66}\e{597}{2.42}{.62}\e{598}{2.56}{.72}\e{599}{2.4}{.64}\e{600}{2.72}{.76}\e{601}{2.42}{.64}\e{602}{2.48}{.68}\e{603}{2.44}{.62}\e{604}{2.46}{.66}\e{605}{2.42}{.64}\e{606}{2.44}{.66}
\saverow\LHH\EHH\SHH
\newcommand\logorow[9]{%
\begin{axis}[at={(0pt,{-72.8925pt*#1})},anchor=south west,scale only axis,width=#2,height=56.43pt,
 xmin=#3,xmax=#4,ymin=0,ymax=4.32,clip=false,axis y line=none,axis x line=bottom,
 axis line style={-,line width=.9pt},xtick=#5,minor xtick=#6,
 tick style={black,line width=.7pt},minor tick style={black,line width=.6pt},tickwidth=2.25pt,subtickwidth=1.25pt,tick align=outside,
 xticklabel style={font=\fontsize{8.2}{10}\selectfont,yshift=-3.6pt,inner sep=0pt},
 xticklabel={\pgfmathprintnumber[assume math mode=true]{\tick}}]
\addplot[ycomb,line width=.25pt,black,mark=none,forget plot] table[x=x,y=y] {#9};
\addplot[only marks,mark size=0pt,mark options={draw=none,fill=none},forget plot,
 point meta=explicit symbolic,
 nodes near coords={\edef\tmpm{\pgfplotspointmeta}\expandafter\LetP\tmpm\relax},
 every node near coord/.style={anchor=south,inner sep=0pt,outer sep=0pt}]
 table[x=x,y=y,meta=c] {#7};
\addplot[draw=none,mark=none,forget plot,error bars/.cd,y dir=both,y explicit,
 error bar style={line width=.45pt,errg},error mark options={rotate=90,errg,mark size=1.15pt,line width=.7pt}]
 table[x=x,y=y,y error plus=ep,y error minus=em] {#8};
\end{axis}
\begin{axis}[at={(0pt,{-72.8925pt*#1})},anchor=south west,scale only axis,width=#2,height=56.43pt,
 xmin=#3,xmax=#4,ymin=0,ymax=4.32,clip=false,axis x line=none,axis y line=left,
 axis line style={-,line width=.65pt},ytick={0,1,2,3,4},yticklabels={0.0,1.0,2.0,3.0,4.0},
 minor ytick={.2,.4,.6,.8,1.2,1.4,1.6,1.8,2.2,2.4,2.6,2.8,3.2,3.4,3.6,3.8,4.2},
 tick style={black,line width=.8pt},minor tick style={black,line width=.8pt},tickwidth=5.5pt,subtickwidth=2.75pt,tick align=outside,
 yticklabel style={font=\fontsize{8.2}{10}\selectfont,inner sep=0pt,xshift=-.2pt}]
\addplot[draw=none,mark=none,forget plot] coordinates {(#3,0)(#3,4.32)};
\node[xshift=-24.1pt,rotate=90,inner sep=0pt,font=\fontsize{10}{12}\selectfont] at (rel axis cs:0,.5) {bits};
\end{axis}}
\begin{document}
\begin{tikzpicture}
\path[use as bounding box] (-32.875pt,62.5pt) rectangle (906.625pt,-531.25pt);
\logorow{0}{901pt}{.5}{80.5}{{5,10,...,80}}{{1,...,80}}{\LA}{\EA}{\SA}
\logorow{1}{901pt}{80.5}{160.5}{{85,90,...,160}}{{81,...,160}}{\LB}{\EB}{\SB}
\logorow{2}{901pt}{160.5}{240.5}{{165,170,...,240}}{{161,...,240}}{\LC}{\EC}{\SC}
\logorow{3}{901pt}{240.5}{320.5}{{245,250,...,320}}{{241,...,320}}{\LD}{\ED}{\SD}
\logorow{4}{901pt}{320.5}{400.5}{{325,330,...,400}}{{321,...,400}}{\LE}{\EE}{\SE}
\logorow{5}{901pt}{400.5}{480.5}{{405,410,...,480}}{{401,...,480}}{\LF}{\EF}{\SF}
\logorow{6}{901pt}{480.5}{560.5}{{485,490,...,560}}{{481,...,560}}{\LG}{\EG}{\SG}
\logorow{7}{518.1pt}{560.5}{606.5}{{565,570,...,605}}{{561,...,606}}{\LHH}{\EHH}{\SHH}
\node[anchor=east,inner sep=0pt,font=\fontsize{6.6}{8}\selectfont] at (903pt,-527pt) {WebLogo 3.7.12};
\end{tikzpicture}
\end{document}
